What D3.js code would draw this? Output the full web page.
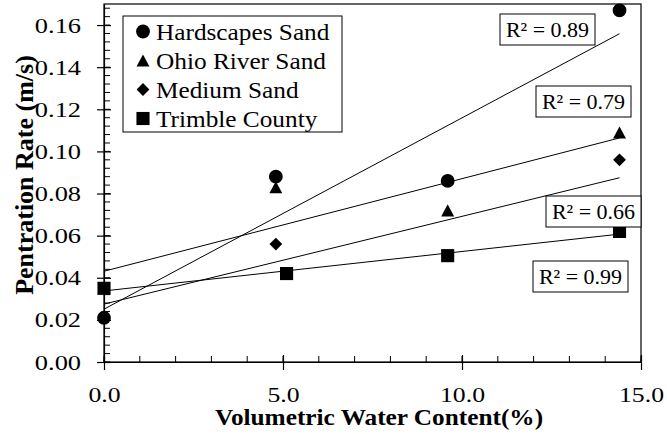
<!DOCTYPE html>
<html>
<head>
<meta charset="utf-8">
<script src="https://cdn.jsdelivr.net/npm/d3@7"></script>
<style>
  html, body { margin: 0; padding: 0; background: #fff; }
  svg { display: block; }
  text { font-family: "Liberation Serif", "Times New Roman", serif; fill: #000; }
</style>
</head>
<body>
<svg id="chart" width="667" height="434"></svg>
<script>
// Series: volumetric water content (%) vs penetration rate (m/s)
const seriesNames = ["Hardscapes Sand", "Ohio River Sand", "Medium Sand", "Trimble County"];
const hardscapesX = [0, 4.8, 9.6, 14.4];
const hardscapesY = [0.021, 0.088, 0.086, 0.167];
const ohioX = [0, 4.8, 9.6, 14.4];
const ohioY = [0.035, 0.083, 0.072, 0.109];
const mediumX = [4.8, 9.6, 14.4];
const mediumY = [0.056, 0.0505, 0.096];
const trimbleX = [0, 5.1, 9.6, 14.4];
const trimbleY = [0.035, 0.042, 0.0505, 0.062];
const rSquaredLabels = ["R\u00B2 = 0.89", "R\u00B2 = 0.79", "R\u00B2 = 0.66", "R\u00B2 = 0.99"];
const xTicks = [0, 5, 10, 15];
const yTicks = [0, 0.02, 0.04, 0.06, 0.08, 0.10, 0.12, 0.14, 0.16];

const seriesX = [hardscapesX, ohioX, mediumX, trimbleX];
const seriesY = [hardscapesY, ohioY, mediumY, trimbleY];

// marker shapes: triangle and diamond centred on their bounding box
const triangleMark = {
  draw(ctx, size) {
    const w = Math.sqrt(size * 2 / 1.1), h = w * 0.93;
    ctx.moveTo(0, -h / 2); ctx.lineTo(w / 2, h / 2); ctx.lineTo(-w / 2, h / 2); ctx.closePath();
  }
};
const diamondMark = {
  draw(ctx, size) {
    const r = Math.sqrt(size / 2);
    ctx.moveTo(0, -r); ctx.lineTo(r, 0); ctx.lineTo(0, r); ctx.lineTo(-r, 0); ctx.closePath();
  }
};
const symbols = [d3.symbolCircle, triangleMark, diamondMark, d3.symbolSquare];
const symbolSizes = [150, 92, 82, 172];

const svg = d3.select("#chart");
const plotLeft = 104, plotRight = 641, plotTop = 4, plotBottom = 362;
const serif = "Liberation Serif";

const x = d3.scaleLinear().domain([0, 15]).range([plotLeft, plotRight]);
const y = d3.scaleLinear().domain([0, 0.17]).range([plotBottom, plotTop]);

// plot frame
svg.append("rect")
  .attr("x", plotLeft).attr("y", plotTop)
  .attr("width", plotRight - plotLeft).attr("height", plotBottom - plotTop)
  .attr("fill", "none").attr("stroke", "#000").attr("stroke-width", 1.2);

// minor ticks (inside)
const minorX = d3.range(0, 15.001, 1);
const minorY = d3.range(0, 0.1701, 0.004);
svg.append("g").selectAll("line").data(minorX).join("line")
  .attr("x1", d => x(d)).attr("x2", d => x(d))
  .attr("y1", plotBottom).attr("y2", plotBottom - 6)
  .attr("stroke", "#000").attr("stroke-width", 1);
svg.append("g").selectAll("line").data(minorY).join("line")
  .attr("x1", plotLeft).attr("x2", plotLeft + 6)
  .attr("y1", d => y(d)).attr("y2", d => y(d))
  .attr("stroke", "#000").attr("stroke-width", 1);

// x axis
const xAxis = svg.append("g").attr("transform", `translate(0,${plotBottom})`)
  .call(d3.axisBottom(x).tickValues(xTicks).tickFormat(d3.format(".1f")).tickSizeInner(8).tickSizeOuter(0).tickPadding(16));
xAxis.attr("font-family", serif);
xAxis.select(".domain").attr("stroke-width", 1.2);
xAxis.selectAll(".tick line").attr("y1", -7).attr("stroke-width", 1.2);
xAxis.selectAll("text").attr("font-family", serif).attr("font-size", 22)
  .attr("transform", "scale(1.17,1)");

// y axis
const yStretch = 1.2;
const yAxis = svg.append("g").attr("transform", `translate(${plotLeft},0)`)
  .call(d3.axisLeft(y).tickValues(yTicks).tickFormat(d3.format(".2f")).tickSizeInner(7).tickSizeOuter(0).tickPadding(16));
yAxis.attr("font-family", serif);
yAxis.select(".domain").attr("stroke-width", 1.2);
yAxis.selectAll(".tick line").attr("x1", 7).attr("stroke-width", 1.2);
yAxis.selectAll("text").attr("font-family", serif).attr("font-size", 22)
  .attr("x", -23 / yStretch).attr("transform", `scale(${yStretch},1)`);

// axis titles
svg.append("text")
  .attr("transform", "translate(379,425) scale(1.1,1)")
  .attr("text-anchor", "middle").attr("font-family", serif)
  .attr("font-weight", "bold").attr("font-size", 23)
  .text("Volumetric Water Content(%)");
svg.append("text")
  .attr("transform", "translate(33,175) rotate(-90)")
  .attr("text-anchor", "middle").attr("font-family", serif)
  .attr("font-weight", "bold").attr("font-size", 26)
  .text("Pentration Rate (m/s)");

// linear least-squares trendlines
function fit(xs, ys) {
  const mx = d3.mean(xs), my = d3.mean(ys);
  const sxy = d3.sum(xs, (v, i) => (v - mx) * (ys[i] - my));
  const sxx = d3.sum(xs, v => (v - mx) * (v - mx));
  const slope = sxy / sxx;
  return { slope, intercept: my - slope * mx };
}
seriesX.forEach((xs, i) => {
  const f = fit(xs, seriesY[i]);
  const x0 = 0, x1 = d3.max(xs);
  svg.append("line")
    .attr("x1", x(x0)).attr("y1", y(f.intercept + f.slope * x0))
    .attr("x2", x(x1)).attr("y2", y(f.intercept + f.slope * x1))
    .attr("stroke", "#000").attr("stroke-width", 1);
});

// markers
seriesX.forEach((xs, i) => {
  svg.append("g").selectAll("path").data(xs).join("path")
    .attr("transform", (d, j) => `translate(${x(d)},${y(seriesY[i][j])})`)
    .attr("d", d3.symbol().type(symbols[i]).size(symbolSizes[i]))
    .attr("fill", "#000");
});

// legend
const legend = svg.append("g");
legend.append("rect")
  .attr("x", 123).attr("y", 16).attr("width", 219).attr("height", 116)
  .attr("fill", "#fff").attr("stroke", "#000").attr("stroke-width", 1);
seriesNames.forEach((name, i) => {
  const cy = 31.5 + i * 29;
  legend.append("path")
    .attr("transform", `translate(143,${cy})`)
    .attr("d", d3.symbol().type(symbols[i]).size(symbolSizes[i]))
    .attr("fill", "#000");
  legend.append("text")
    .attr("transform", `translate(156,${cy + 8}) scale(1.1,1)`)
    .attr("font-family", serif).attr("font-size", 23)
    .text(name);
});

// R² annotation boxes
const boxes = [[500, 14], [536, 86], [546, 196], [533, 261]];
rSquaredLabels.forEach((label, i) => {
  const [bx, by] = boxes[i];
  svg.append("rect")
    .attr("x", bx).attr("y", by).attr("width", 95).attr("height", 31)
    .attr("fill", "#fff").attr("stroke", "#000").attr("stroke-width", 1);
  svg.append("text")
    .attr("x", bx + 47.5).attr("y", by + 23)
    .attr("text-anchor", "middle").attr("font-family", serif).attr("font-size", 22)
    .text(label);
});
</script>
</body>
</html>
